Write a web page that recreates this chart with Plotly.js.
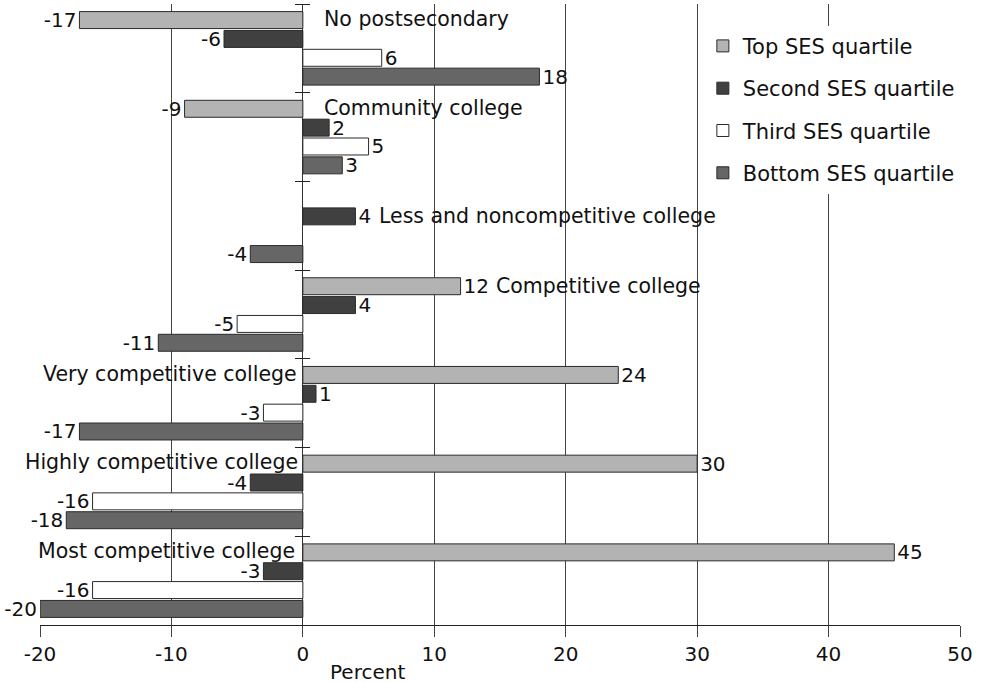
<!DOCTYPE html>
<html><head><meta charset="utf-8">
<script src="https://cdn.plot.ly/plotly-3.0.1.min.js"></script>
<style>html,body{margin:0;padding:0;background:#fff}#chart{width:981px;height:683px}</style>
</head><body><div id="chart"></div><script>
const categories = ['No postsecondary','Community college','Less and noncompetitive college','Competitive college','Very competitive college','Highly competitive college','Most competitive college'];
const topSES = [-17, -9, null, 12, 24, 30, 45];
const secondSES = [-6, 2, 4, 4, 1, -4, -3];
const thirdSES = [6, 5, null, -5, -3, -16, -16];
const bottomSES = [18, 3, -4, -11, -17, -18, -20];
const seriesNames = ['Top SES quartile','Second SES quartile','Third SES quartile','Bottom SES quartile'];
const seriesColors = ['#b3b3b3','#404040','#ffffff','#666666'];
const xTicks = [-20, -10, 0, 10, 20, 30, 40, 50];
const xRange = [-20, 50];

const FONT = 'DejaVu Sans';
const FS = 20;
const seriesValues = [topSES, secondSES, thirdSES, bottomSES];
const traces = seriesValues.map((vals, i) => ({
  type: 'bar', orientation: 'h', name: seriesNames[i], legendgroup: 'g' + i,
  x: vals, y: categories,
  marker: {color: seriesColors[i], line: {color: '#2a2a2a', width: 1}},
  text: vals.map(v => v === null ? '' : String(v)),
  textposition: 'outside', constraintext: 'none', cliponaxis: false,
  textfont: {family: FONT, size: FS, color: '#111'},
  hoverinfo: 'x+name'
}));

const W = 981, H = 683, mL = 40, mR = 21, mT = 4, mB = 58;
const plotW = W - mL - mR;
const zeroFrac = (0 - xRange[0]) / (xRange[1] - xRange[0]);

const lab = (text, yi, x, anchor, xshift, yshift) => ({
  text, x, y: categories[yi], xref: 'x', yref: 'y', xanchor: anchor, yanchor: 'middle',
  xshift, yshift, showarrow: false, font: {family: FONT, size: 20.5, color: '#111'}
});

const layout = {
  width: W, height: H,
  margin: {l: mL, r: mR, t: mT, b: mB},
  paper_bgcolor: '#fff', plot_bgcolor: '#fff',
  font: {family: FONT, size: FS, color: '#111'},
  barmode: 'group', bargap: 0.15, bargroupgap: 0.1,
  xaxis: {
    range: xRange, tickvals: xTicks, ticktext: xTicks.map(String),
    showgrid: true, gridcolor: '#444', gridwidth: 1,
    zeroline: true, zerolinecolor: '#333', zerolinewidth: 1,
    showline: true, linecolor: '#222', linewidth: 1,
    ticks: 'outside', ticklen: 11, tickcolor: '#444', tickwidth: 1,
    tickfont: {family: FONT, size: FS}
  },
  yaxis: {
    type: 'category', autorange: 'reversed', anchor: 'free',
    position: zeroFrac + 7 / plotW,
    showline: false, showgrid: false, zeroline: false,
    ticks: 'outside', tickson: 'boundaries', ticklen: 15, tickcolor: '#222', tickwidth: 1,
    showticklabels: false
  },
  legend: {
    x: 0.7205, y: 0.965, xanchor: 'left', yanchor: 'top',
    bgcolor: '#fff', borderwidth: 0, tracegroupgap: 12,
    font: {family: FONT, size: 21, color: '#111'}
  },
  annotations: [
    lab(categories[0], 0, 0, 'left', 19, 29),
    lab(categories[1], 1, 0, 'left', 19, 29),
    lab(categories[2], 2, 4, 'left', 22, 10),
    lab(categories[3], 3, 12, 'left', 33, 29),
    lab(categories[4], 4, 0, 'right', -4, 29),
    lab(categories[5], 5, 0, 'right', -3, 30),
    lab(categories[6], 6, 0, 'right', -6, 30),
    {text: 'Percent', xref: 'paper', yref: 'paper', x: (367 - mL) / plotW, y: 0,
     xanchor: 'center', yanchor: 'top', yshift: -33, showarrow: false,
     font: {family: FONT, size: 20, color: '#111'}}
  ]
};

Plotly.newPlot('chart', traces, layout, {displayModeBar: false, staticPlot: true});
</script></body></html>
